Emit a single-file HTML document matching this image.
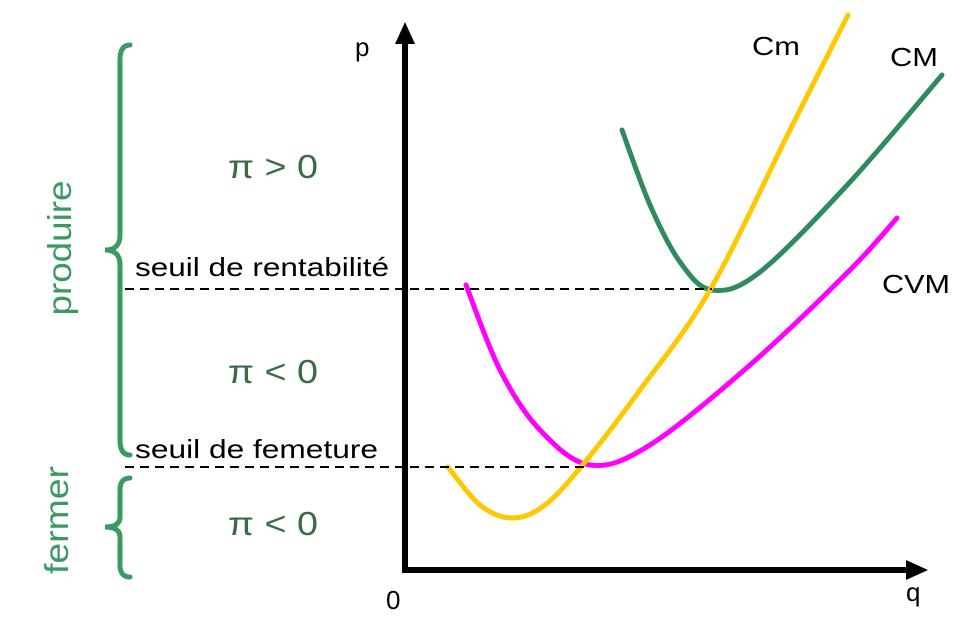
<!DOCTYPE html>
<html><head><meta charset="utf-8"><style>
html,body{margin:0;padding:0;background:#fff;}
svg{display:block;font-family:"Liberation Sans",Arial,sans-serif;}
</style></head><body>
<svg id="chart" width="968" height="623" viewBox="0 0 968 623">
<g id="marks"></g>
<line x1="405" y1="572" x2="405" y2="40" stroke="#000" stroke-width="6"/>
<polygon points="405,22 395,44 415,44" fill="#000"/>
<line x1="402" y1="570" x2="910" y2="570" stroke="#000" stroke-width="6"/>
<polygon points="928,570 906,560 906,580" fill="#000"/>
<line x1="125" y1="289" x2="712" y2="289" stroke="#000" stroke-width="2" stroke-dasharray="9,6"/>
<line x1="125" y1="467" x2="590" y2="467" stroke="#000" stroke-width="2" stroke-dasharray="9,6"/>
<path d="M130,45 Q120,45 120,60 L120,235 Q120,250 105,250 Q120,250 120,265 L120,440 Q120,455 130,455" fill="none" stroke="#3a9a62" stroke-width="5" stroke-linecap="round"/>
<path d="M130,478 Q120,478 120,490 L120,517 Q120,527 105,527 Q120,527 120,537 L120,565 Q120,577 130,577" fill="none" stroke="#3a9a62" stroke-width="5" stroke-linecap="round"/>
<text transform="translate(71,248) rotate(-90)" text-anchor="middle" font-size="33" fill="#3a9a62" textLength="135" lengthAdjust="spacingAndGlyphs">produire</text>
<text transform="translate(68,520) rotate(-90)" text-anchor="middle" font-size="33" fill="#3a9a62" textLength="108" lengthAdjust="spacingAndGlyphs">fermer</text>
<text x="228" y="178" font-size="33" fill="#3a6b45" textLength="90" lengthAdjust="spacingAndGlyphs">π &gt; 0</text>
<text x="228" y="383" font-size="33" fill="#3a6b45" textLength="90" lengthAdjust="spacingAndGlyphs">π &lt; 0</text>
<text x="228" y="535" font-size="33" fill="#3a6b45" textLength="90" lengthAdjust="spacingAndGlyphs">π &lt; 0</text>
<text x="135" y="276" font-size="26" textLength="254" lengthAdjust="spacingAndGlyphs">seuil de rentabilité</text>
<text x="135" y="458" font-size="26" textLength="243" lengthAdjust="spacingAndGlyphs">seuil de femeture</text>
<text x="355" y="56" font-size="26">p</text>
<text x="906" y="601" font-size="26">q</text>
<text x="386" y="609" font-size="26">0</text>
<text x="752" y="55" font-size="26" textLength="48" lengthAdjust="spacingAndGlyphs">Cm</text>
<text x="890" y="66" font-size="26" textLength="48" lengthAdjust="spacingAndGlyphs">CM</text>
<text x="882" y="293" font-size="26" textLength="68" lengthAdjust="spacingAndGlyphs">CVM</text>
</svg>
<script>
const cmQ=[8.6,15,21.4,28,36,47,61,77,88.6];
const cmP=[20.6,13,10.4,13,21.6,36,56,88,111];
const cvmQ=[12.2,19,27,37,49,69,89,98.4];
const cvmP=[57,40,28,21,25,41,60,70.4];
const cmtQ=[43.4,49,55,61.4,71,89,107.4];
const cmtP=[88,73,61.6,56,59.6,77.6,99];
function xs(q){return 405+q*5;}
function ys(p){return 570-p*5;}
function path(Q,P){
  const pts=Q.map((q,i)=>[xs(q),ys(P[i])]);
  let d='M'+pts[0][0]+','+pts[0][1];
  for(let i=0;i<pts.length-1;i++){
    const p0=pts[i-1]||pts[i],p1=pts[i],p2=pts[i+1],p3=pts[i+2]||p2;
    const c1=[p1[0]+(p2[0]-p0[0])/6,p1[1]+(p2[1]-p0[1])/6];
    const c2=[p2[0]-(p3[0]-p1[0])/6,p2[1]-(p3[1]-p1[1])/6];
    d+=' C'+c1+' '+c2+' '+p2;
  }
  return d;
}
const g=document.getElementById('marks');
function add(Q,P,color,name){
  const el=document.createElementNS('http://www.w3.org/2000/svg','path');
  el.setAttribute('d',path(Q,P));
  el.setAttribute('fill','none');
  el.setAttribute('stroke',color);
  el.setAttribute('stroke-width','5');
  el.setAttribute('stroke-linecap','round');
  
  
  g.appendChild(el);
}
add(cmtQ,cmtP,'#2e8b5e','cm-total-curve');
add(cvmQ,cvmP,'#ff00ff','cvm-curve');
add(cmQ,cmP,'#ffc800','cm-curve');
</script>
</body></html>
